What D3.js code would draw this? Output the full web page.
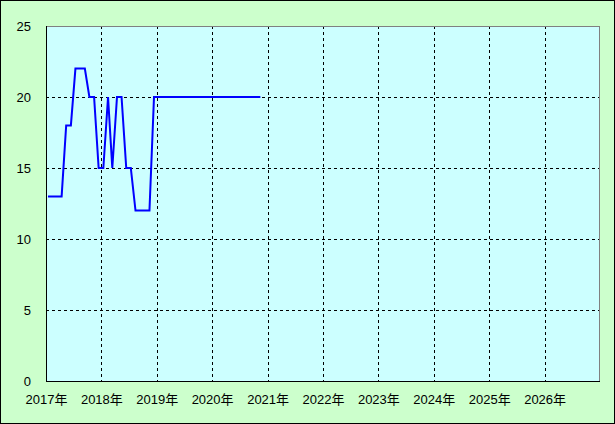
<!DOCTYPE html>
<html lang="ja">
<head>
<meta charset="utf-8">
<style>
  body { margin: 0; background: #ccffcc; }
  svg { display: block; }
  .lbl { font-family: "Liberation Sans", "Noto Sans CJK JP", sans-serif; font-size: 13px; fill: #000; }
  .grid { stroke: #000; stroke-width: 1; stroke-dasharray: 3,3; shape-rendering: crispEdges; }
</style>
<script src="https://d3js.org/d3.v7.min.js"></script>
</head>
<body>
<script>
// monthly values from Jan 2017 through Nov 2020
var startYear = 2017;
var values = [13, 13, 13, 13, 18, 18, 22, 22, 22, 20, 20, 15,
              15, 20, 15, 20, 20, 15, 15, 12, 12, 12, 12, 20,
              20, 20, 20, 20, 20, 20, 20, 20, 20, 20, 20, 20,
              20, 20, 20, 20, 20, 20, 20, 20, 20, 20, 20];
var yTicks = [0, 5, 10, 15, 20, 25];
var xYears = [2017, 2018, 2019, 2020, 2021, 2022, 2023, 2024, 2025, 2026];

var width = 615, height = 424;
var pl = 46, pr = 600, pt = 26, pb = 381;

var svg = d3.select("body").append("svg")
    .attr("width", width)
    .attr("height", height);

svg.append("rect")
    .attr("x", 0.5).attr("y", 0.5)
    .attr("width", width - 1).attr("height", height - 1)
    .attr("fill", "#ccffcc").attr("stroke", "#000");

var x = d3.scaleTime()
    .domain([new Date(2017, 0, 1), new Date(2027, 0, 1)])
    .range([pl, pr]);
var y = d3.scaleLinear().domain([0, 25]).range([pb, pt]);

svg.append("rect")
    .attr("x", pl).attr("y", pt)
    .attr("width", pr - pl).attr("height", pb - pt)
    .attr("fill", "#ccffff");

// grid
svg.selectAll(".hg").data(yTicks.filter(function(d) { return d > 0 && d < 25; }))
  .enter().append("line")
    .attr("class", "grid")
    .attr("x1", pl).attr("x2", pr)
    .attr("y1", function(d) { return Math.round(y(d)) + 0.5; })
    .attr("y2", function(d) { return Math.round(y(d)) + 0.5; });

svg.selectAll(".vg").data(xYears.slice(1))
  .enter().append("line")
    .attr("class", "grid")
    .attr("y1", pt).attr("y2", pb)
    .attr("x1", function(d) { return Math.round(x(new Date(d, 0, 1))) + 0.5; })
    .attr("x2", function(d) { return Math.round(x(new Date(d, 0, 1))) + 0.5; });

// frame
svg.append("path")
    .attr("d", "M" + pl + "," + (pt + 0.5) + "H" + (pr - 0.5) + "V" + pb)
    .attr("fill", "none").attr("stroke", "#808080").attr("shape-rendering", "crispEdges");
svg.append("path")
    .attr("d", "M" + (pl + 0.5) + "," + pt + "V" + (pb + 0.5) + "H" + pr)
    .attr("fill", "none").attr("stroke", "#000").attr("shape-rendering", "crispEdges");

// line
var line = d3.line()
    .x(function(d, i) { return x(new Date(startYear, i, 14)); })
    .y(function(d) { return y(d); });

svg.append("path")
    .datum(values)
    .attr("d", line)
    .attr("fill", "none")
    .attr("stroke", "#0000ff")
    .attr("stroke-width", 2);

// labels
svg.selectAll(".yl").data(yTicks)
  .enter().append("text")
    .attr("class", "lbl")
    .attr("x", 31)
    .attr("y", function(d) { return y(d) + 5; })
    .attr("text-anchor", "end")
    .text(function(d) { return d; });

svg.selectAll(".xl").data(xYears)
  .enter().append("text")
    .attr("class", "lbl")
    .attr("x", function(d) { return x(new Date(d, 0, 1)) + 0.5; })
    .attr("y", 404)
    .attr("text-anchor", "middle")
    .text(function(d) { return d + "年"; });
</script>
</body>
</html>
